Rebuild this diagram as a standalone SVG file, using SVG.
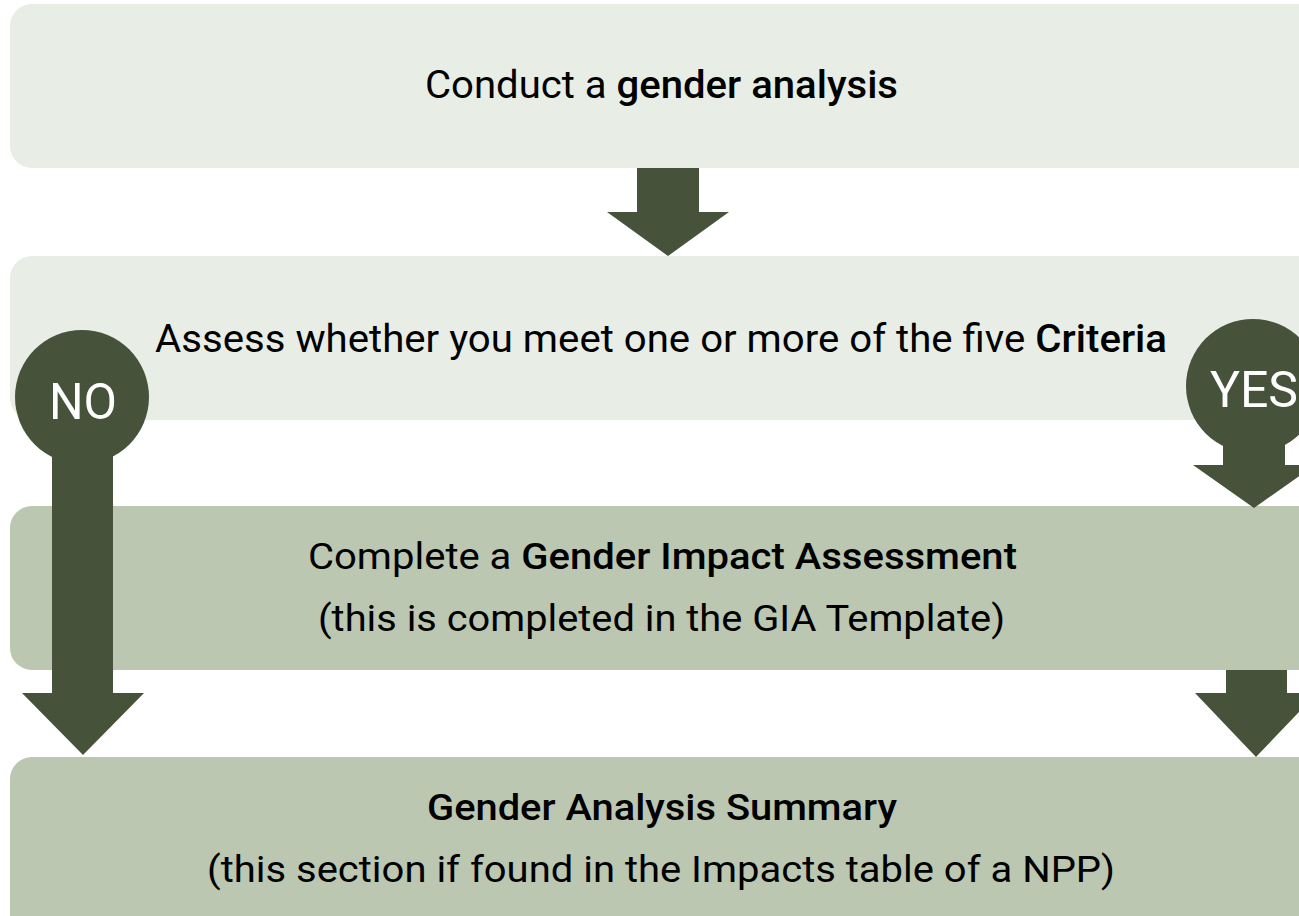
<svg xmlns="http://www.w3.org/2000/svg" width="1299" height="916" viewBox="0 0 1299 916">
  <style>
    .light { fill: #E8EDE5; }
    .mid { fill: #BBC7B0; }
    .dark { fill: #46533A; }
    .t { font-family: Roboto, "Liberation Sans", sans-serif; fill: #000; text-anchor: start; }
    .b { font-weight: 500; }
    .badge { font-family: Roboto, "Liberation Sans", sans-serif; fill: #fff; font-size: 50px; text-anchor: middle; }
  </style>

  <!-- step boxes -->
  <g id="step-analysis">
    <rect class="light" x="10" y="4" width="1320" height="164" rx="22"/>
    <text class="t" x="425" y="98" font-size="38" textLength="473" lengthAdjust="spacingAndGlyphs">Conduct a <tspan class="b">gender analysis</tspan></text>
  </g>

  <g id="step-criteria">
    <rect class="light" x="10" y="256" width="1320" height="164" rx="22"/>
    <text class="t" x="155" y="352" font-size="38" textLength="1012" lengthAdjust="spacingAndGlyphs">Assess whether you meet one or more of the five <tspan class="b">Criteria</tspan></text>
  </g>

  <g id="step-gia">
    <rect class="mid" x="10" y="506" width="1320" height="164" rx="22"/>
    <text class="t" x="308" y="569" font-size="36" textLength="709" lengthAdjust="spacingAndGlyphs">Complete a <tspan class="b">Gender Impact Assessment</tspan></text>
    <text class="t" x="318" y="631" font-size="36" textLength="687" lengthAdjust="spacingAndGlyphs">(this is completed in the GIA Template)</text>
  </g>

  <g id="step-summary">
    <rect class="mid" x="10" y="757" width="1320" height="180" rx="22"/>
    <text class="b t" x="427" y="820" font-size="36" textLength="470" lengthAdjust="spacingAndGlyphs">Gender Analysis Summary</text>
    <text class="t" x="207" y="882" font-size="36" textLength="908" lengthAdjust="spacingAndGlyphs">(this section if found in the Impacts table of a NPP)</text>
  </g>

  <!-- connectors -->
  <g id="connectors">
    <!-- analysis to criteria -->
    <polygon class="dark" points="637,168 699,168 699,212 729,212 668,256 607,212 637,212"/>
    <!-- NO branch -->
    <polygon class="dark" points="52,440 113,440 113,693 144,693 83,755 22,693 52,693"/>
    <circle class="dark" cx="82" cy="397" r="67"/>
    <!-- YES branch -->
    <polygon class="dark" points="1223,430 1285,430 1285,465 1315,465 1254,508 1193,465 1223,465"/>
    <circle class="dark" cx="1253" cy="386" r="67"/>
    <!-- GIA to summary -->
    <polygon class="dark" points="1226,670 1287,670 1287,693 1317,693 1256,757 1195,693 1226,693"/>
  </g>

  <g id="label-no">
    <text class="badge" x="83" y="419" textLength="68" lengthAdjust="spacingAndGlyphs">NO</text>
  </g>
  <g id="label-yes">
    <text class="badge" x="1254" y="407">YES</text>
  </g>
</svg>
